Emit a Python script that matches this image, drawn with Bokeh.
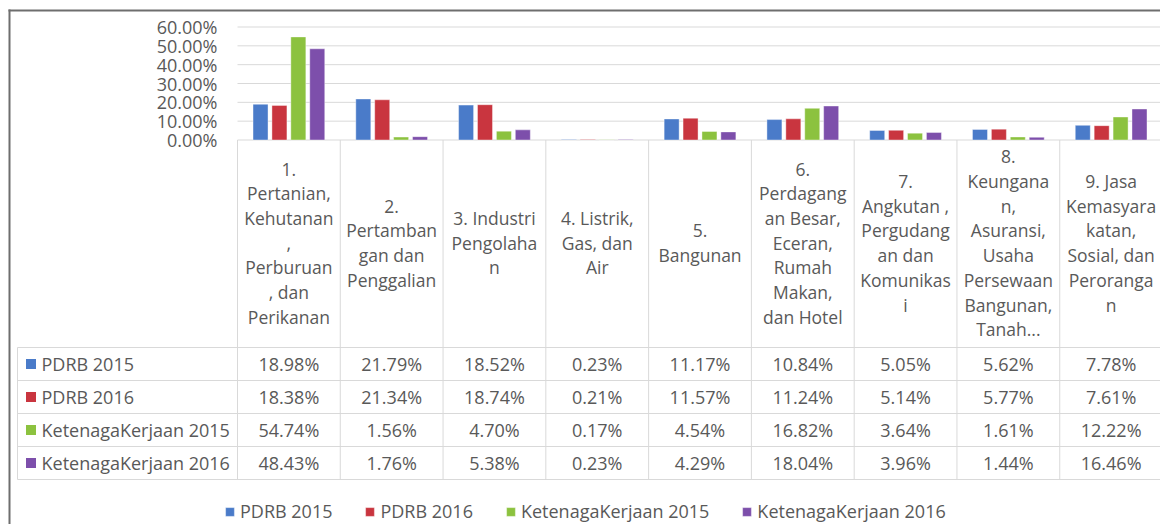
from bokeh.plotting import figure
from bokeh.models import (Range1d, FixedTicker, NumeralTickFormatter, ColumnDataSource,
                          Legend, LegendItem)
from bokeh.embed import file_html
from bokeh.resources import INLINE
from bokeh.core.properties import value

# ---------------- data ----------------
categories = [
    "1.\nPertanian,\nKehutanan\n,\nPerburuan\n, dan\nPerikanan",
    "2.\nPertamban\ngan dan\nPenggalian",
    "3. Industri\nPengolaha\nn",
    "4. Listrik,\nGas, dan\nAir",
    "5.\nBangunan",
    "6.\nPerdagang\nan Besar,\nEceran,\nRumah\nMakan,\ndan Hotel",
    "7.\nAngkutan ,\nPergudang\nan dan\nKomunikas\ni",
    "8.\nKeungana\nn,\nAsuransi,\nUsaha\nPersewaan\nBangunan,\nTanah...",
    "9. Jasa\nKemasyara\nkatan,\nSosial, dan\nPeroranga\nn",
]
series_names = ["PDRB 2015", "PDRB 2016", "KetenagaKerjaan 2015", "KetenagaKerjaan 2016"]
pdrb_2015 = [18.98, 21.79, 18.52, 0.23, 11.17, 10.84, 5.05, 5.62, 7.78]
pdrb_2016 = [18.38, 21.34, 18.74, 0.21, 11.57, 11.24, 5.14, 5.77, 7.61]
tk_2015 = [54.74, 1.56, 4.70, 0.17, 4.54, 16.82, 3.64, 1.61, 12.22]
tk_2016 = [48.43, 1.76, 5.38, 0.23, 4.29, 18.04, 3.96, 1.44, 16.46]
y_ticks = [0, 10, 20, 30, 40, 50, 60]

series_values = [pdrb_2015, pdrb_2016, tk_2015, tk_2016]
colors = ["#4a7bc9", "#c9353f", "#8cc23f", "#7d4fab"]

# ---------------- layout constants (page pixels) ----------------
FONT = value("Open Sans")
FS = "18px"
FS_HEAD = "17.5px"
TXT = "#595959"
GRID = "#d9d9d9"
FRAME = "#6e6e6e"
W, H = 1160, 524
COL0 = 237          # left edge of first category column
CW = 102.78         # column width
ZERO_Y = 139.5      # page y of 0 %
PX = 113 / 0.6      # px per unit of value axis
n = len(categories)


def xp(page_x):
    return (page_x - COL0) / CW


p = figure(width=W, height=H, output_backend="svg", toolbar_location=None,
           x_range=Range1d(xp(0), xp(W)),
           y_range=Range1d(-(H - ZERO_Y) / PX, ZERO_Y / PX),
           min_border=0, x_axis_location=None, title=None)
p.extra_y_ranges = {"page": Range1d(start=H, end=0)}
p.outline_line_color = None
p.grid.visible = False

# value axis (labels placed inside canvas at x ~ 217)
ticker = FixedTicker(ticks=[t / 100 for t in y_ticks])
ax = p.yaxis[0]
ax.ticker = ticker
ax.formatter = NumeralTickFormatter(format="0.00%")
ax.axis_line_color = None
ax.major_tick_line_color = None
ax.minor_tick_line_color = None
ax.major_tick_out = 0
ax.major_tick_in = 0
ax.major_label_standoff = -217
ax.major_label_text_font = "Open Sans"
ax.major_label_text_font_size = FS
ax.major_label_text_color = TXT

# gridlines over the plot area only
p.segment(x0=[0] * len(y_ticks), x1=[n] * len(y_ticks),
          y0=[t / 100 for t in y_ticks], y1=[t / 100 for t in y_ticks],
          line_color=GRID, line_width=1)

# bars
STEP = 0.184
BW = 0.146
bar_renderers = []
for j, (vals, c) in enumerate(zip(series_values, colors)):
    src = ColumnDataSource(dict(
        x=[i + 0.5 + (j - 1.5) * STEP for i in range(n)],
        top=[v / 100 for v in vals]))
    r = p.vbar(x="x", top="top", bottom=0, width=BW, source=src,
               fill_color=c, line_color="white", line_alpha=0.4, line_width=1)
    bar_renderers.append(r)

# ---------------- data table ----------------
HEAD_TOP = ZERO_Y
row_lines = [347, 380, 413, 446, 479]
row_y = [(row_lines[k] + row_lines[k + 1]) / 2 for k in range(4)]
left_edge = xp(17)
right_edge = n + 0.5

p.segment(x0=[left_edge] * len(row_lines), y0=row_lines,
          x1=[right_edge] * len(row_lines), y1=row_lines,
          line_color=GRID, line_width=1, y_range_name="page")
vx = [left_edge] + list(range(n + 1))
vy0 = [row_lines[0]] + [HEAD_TOP] * (n + 1)
p.segment(x0=vx, y0=vy0, x1=vx, y1=[row_lines[-1]] * len(vx),
          line_color=GRID, line_width=1, y_range_name="page")

# header category labels
p.text(x=[i + 0.5 for i in range(n)], y=[(HEAD_TOP + row_lines[0]) / 2 - 1] * n,
       text=categories, text_align="center", text_baseline="middle",
       text_line_height=1.03, text_font=FONT, text_font_size=FS_HEAD,
       text_color=TXT, y_range_name="page")

# values
for j, vals in enumerate(series_values):
    p.text(x=[i + 0.5 for i in range(n)], y=[row_y[j]] * n,
           text=[f"{v:.2f}%" for v in vals], text_align="center",
           text_baseline="middle", text_font=FONT, text_font_size=FS,
           text_color=TXT, y_range_name="page")

# series keys + names
p.rect(x=[xp(30.5)] * 4, y=row_y, width=10, height=10,
       width_units="screen", height_units="screen",
       fill_color=colors, line_color=None, y_range_name="page")
p.text(x=[xp(41)] * 4, y=row_y, text=series_names, text_align="left",
       text_baseline="middle", text_font=FONT, text_font_size=FS,
       text_color=TXT, y_range_name="page")

# outer chart-area frame (top and left edges)
p.segment(x0=[xp(8), xp(9)], y0=[10, 9], x1=[xp(W + 5), xp(9)], y1=[10, H + 5],
          line_color=FRAME, line_width=2, y_range_name="page")

# ---------------- legend ----------------
items = [LegendItem(label=name, renderers=[r])
         for name, r in zip(series_names, bar_renderers)]
legend = Legend(items=items, orientation="horizontal", location=(224, 1),
                glyph_width=11, glyph_height=11, label_standoff=5, spacing=32,
                padding=0, margin=0, border_line_color=None,
                background_fill_alpha=0, label_text_font="Open Sans",
                label_text_font_size=FS, label_text_color=TXT)
p.add_layout(legend)

open("out.html", "w").write(file_html(p, INLINE))
